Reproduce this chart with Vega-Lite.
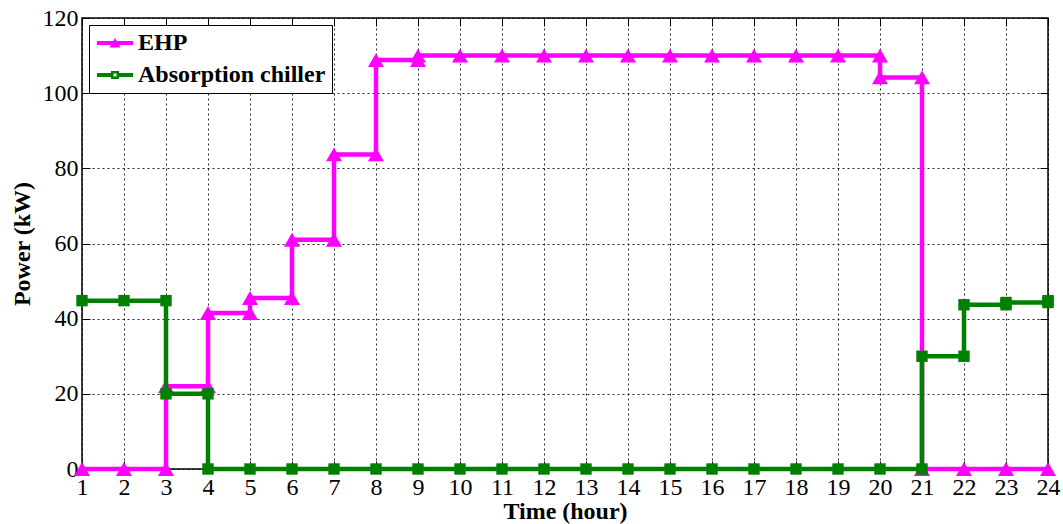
{
  "$schema": "https://vega.github.io/schema/vega-lite/v6.json",
  "width": 966,
  "height": 451,
  "autosize": {"type": "none"},
  "padding": {"left": 82, "top": 18, "right": 15, "bottom": 55},
  "background": "white",
  "config": {
    "font": "Liberation Serif",
    "view": {"stroke": "black", "strokeWidth": 1.5},
    "axis": {
      "labelFont": "Liberation Serif",
      "labelFontSize": 24,
      "labelColor": "black",
      "titleFont": "Liberation Serif",
      "titleFontSize": 24,
      "titleFontWeight": "bold",
      "titleColor": "black",
      "domain": false,
      "tickColor": "black",
      "tickWidth": 1,
      "tickSize": -8,
      "gridColor": "black",
      "gridDash": [2, 3],
      "gridWidth": 1,
      "gridOpacity": 0.85
    }
  },
  "data": {
    "values": [
      {"series": "EHP", "step": 1, "hour": 1, "kw": 0},
      {"series": "EHP", "step": 2, "hour": 2, "kw": 0},
      {"series": "EHP", "step": 3, "hour": 3, "kw": 0},
      {"series": "EHP", "step": 4, "hour": 3, "kw": 22},
      {"series": "EHP", "step": 5, "hour": 4, "kw": 22},
      {"series": "EHP", "step": 6, "hour": 4, "kw": 41.5},
      {"series": "EHP", "step": 7, "hour": 5, "kw": 41.5},
      {"series": "EHP", "step": 8, "hour": 5, "kw": 45.5},
      {"series": "EHP", "step": 9, "hour": 6, "kw": 45.5},
      {"series": "EHP", "step": 10, "hour": 6, "kw": 61},
      {"series": "EHP", "step": 11, "hour": 7, "kw": 61},
      {"series": "EHP", "step": 12, "hour": 7, "kw": 83.7},
      {"series": "EHP", "step": 13, "hour": 8, "kw": 83.7},
      {"series": "EHP", "step": 14, "hour": 8, "kw": 108.8},
      {"series": "EHP", "step": 15, "hour": 9, "kw": 108.8},
      {"series": "EHP", "step": 16, "hour": 9, "kw": 110},
      {"series": "EHP", "step": 17, "hour": 10, "kw": 110},
      {"series": "EHP", "step": 18, "hour": 11, "kw": 110},
      {"series": "EHP", "step": 19, "hour": 12, "kw": 110},
      {"series": "EHP", "step": 20, "hour": 13, "kw": 110},
      {"series": "EHP", "step": 21, "hour": 14, "kw": 110},
      {"series": "EHP", "step": 22, "hour": 15, "kw": 110},
      {"series": "EHP", "step": 23, "hour": 16, "kw": 110},
      {"series": "EHP", "step": 24, "hour": 17, "kw": 110},
      {"series": "EHP", "step": 25, "hour": 18, "kw": 110},
      {"series": "EHP", "step": 26, "hour": 19, "kw": 110},
      {"series": "EHP", "step": 27, "hour": 20, "kw": 110},
      {"series": "EHP", "step": 28, "hour": 20, "kw": 104.2},
      {"series": "EHP", "step": 29, "hour": 21, "kw": 104.2},
      {"series": "EHP", "step": 30, "hour": 21, "kw": 0},
      {"series": "EHP", "step": 31, "hour": 22, "kw": 0},
      {"series": "EHP", "step": 32, "hour": 23, "kw": 0},
      {"series": "EHP", "step": 33, "hour": 24, "kw": 0},
      {"series": "Absorption chiller", "step": 1, "hour": 1, "kw": 44.8},
      {"series": "Absorption chiller", "step": 2, "hour": 2, "kw": 44.8},
      {"series": "Absorption chiller", "step": 3, "hour": 3, "kw": 44.8},
      {"series": "Absorption chiller", "step": 4, "hour": 3, "kw": 20},
      {"series": "Absorption chiller", "step": 5, "hour": 4, "kw": 20},
      {"series": "Absorption chiller", "step": 6, "hour": 4, "kw": 0},
      {"series": "Absorption chiller", "step": 7, "hour": 5, "kw": 0},
      {"series": "Absorption chiller", "step": 8, "hour": 6, "kw": 0},
      {"series": "Absorption chiller", "step": 9, "hour": 7, "kw": 0},
      {"series": "Absorption chiller", "step": 10, "hour": 8, "kw": 0},
      {"series": "Absorption chiller", "step": 11, "hour": 9, "kw": 0},
      {"series": "Absorption chiller", "step": 12, "hour": 10, "kw": 0},
      {"series": "Absorption chiller", "step": 13, "hour": 11, "kw": 0},
      {"series": "Absorption chiller", "step": 14, "hour": 12, "kw": 0},
      {"series": "Absorption chiller", "step": 15, "hour": 13, "kw": 0},
      {"series": "Absorption chiller", "step": 16, "hour": 14, "kw": 0},
      {"series": "Absorption chiller", "step": 17, "hour": 15, "kw": 0},
      {"series": "Absorption chiller", "step": 18, "hour": 16, "kw": 0},
      {"series": "Absorption chiller", "step": 19, "hour": 17, "kw": 0},
      {"series": "Absorption chiller", "step": 20, "hour": 18, "kw": 0},
      {"series": "Absorption chiller", "step": 21, "hour": 19, "kw": 0},
      {"series": "Absorption chiller", "step": 22, "hour": 20, "kw": 0},
      {"series": "Absorption chiller", "step": 23, "hour": 21, "kw": 0},
      {"series": "Absorption chiller", "step": 24, "hour": 21, "kw": 30},
      {"series": "Absorption chiller", "step": 25, "hour": 22, "kw": 30},
      {"series": "Absorption chiller", "step": 26, "hour": 22, "kw": 43.7},
      {"series": "Absorption chiller", "step": 27, "hour": 23, "kw": 43.7},
      {"series": "Absorption chiller", "step": 28, "hour": 23, "kw": 44.3},
      {"series": "Absorption chiller", "step": 29, "hour": 24, "kw": 44.3},
      {"series": "Absorption chiller", "step": 30, "hour": 24, "kw": 44.8}
    ]
  },
  "layer": [
    {
      "encoding": {
        "x": {
          "field": "hour",
          "type": "quantitative",
          "title": "Time (hour)",
          "scale": {"domain": [1, 24], "nice": false, "zero": false},
          "axis": {
            "orient": "bottom",
            "values": [1, 2, 3, 4, 5, 6, 7, 8, 9, 10, 11, 12, 13, 14, 15, 16, 17, 18, 19, 20, 21, 22, 23, 24],
            "grid": true,
            "labelFlush": false,
            "labelOverlap": false,
            "labelPadding": 14,
            "titlePadding": 0,
            "encode": {"labels": {"update": {"fontSize": {"value": 24}, "font": {"value": "Liberation Serif"}}}}
          }
        },
        "y": {
          "field": "kw",
          "type": "quantitative",
          "title": "Power (kW)",
          "scale": {"domain": [0, 120], "nice": false},
          "axis": {
            "orient": "left",
            "values": [0, 20, 40, 60, 80, 100, 120],
            "grid": true,
            "labelFlush": false,
            "labelOverlap": false,
            "labelPadding": 12,
            "titlePadding": 8,
            "encode": {"labels": {"update": {"fontSize": {"value": 24}, "font": {"value": "Liberation Serif"}}}}
          }
        },
        "order": {"field": "step", "type": "quantitative"},
        "color": {
          "field": "series",
          "type": "nominal",
          "scale": {"domain": ["EHP", "Absorption chiller"], "range": ["#ff00ff", "#008000"]},
          "legend": {
            "title": null,
            "orient": "top-left",
            "offset": 7,
            "padding": 6,
            "strokeColor": "black",
            "fillColor": "white",
            "labelFont": "Liberation Serif",
            "labelFontSize": 24,
            "labelFontWeight": "bold",
            "labelColor": "black",
            "labelLimit": 0,
            "symbolOffset": 8,
            "labelOffset": 11,
            "rowPadding": 8,
            "symbolSize": 400,
            "encode": {
              "symbols": {
                "update": {
                  "shape": {"signal": "datum.value === 'EHP' ? 'M-1.8,-0.2H1.8V0.2H-1.8Z M-0.55,0.45L0,-0.5L0.55,0.45Z' : 'M-1.8,-0.2H-0.4V0.2H-1.8Z M0.4,-0.2H1.8V0.2H0.4Z M-0.4,-0.4H0.4V0.4H-0.4Z M-0.15,-0.15V0.15H0.15V-0.15Z'"},
                  "fill": {"signal": "datum.value === 'EHP' ? '#ff00ff' : '#008000'"},
                  "stroke": {"value": "transparent"},
                  "strokeWidth": {"value": 0},
                  "size": {"value": 400},
                  "opacity": {"value": 1}
                }
              }
            }
          }
        }
      },
      "layer": [
        {
          "transform": [{"filter": "datum.series === 'EHP'"}],
          "mark": {"type": "line", "strokeWidth": 4.5, "clip": false}
        },
        {
          "transform": [{"filter": "datum.series === 'EHP'"}],
          "mark": {"type": "point", "shape": "triangle-up", "filled": true, "size": 256, "opacity": 1, "strokeWidth": 1}
        },
        {
          "transform": [{"filter": "datum.series === 'Absorption chiller'"}],
          "mark": {"type": "line", "strokeWidth": 4.5, "clip": false}
        },
        {
          "transform": [{"filter": "datum.series === 'Absorption chiller'"}],
          "mark": {"type": "point", "shape": "square", "filled": true, "size": 130, "opacity": 1, "strokeWidth": 1}
        }
      ]
    },
    {
      "mark": {"type": "point", "opacity": 0},
      "encoding": {
        "x": {
          "field": "hour",
          "type": "quantitative",
          "scale": {"domain": [1, 24], "nice": false, "zero": false},
          "axis": {
            "orient": "top",
            "values": [1, 2, 3, 4, 5, 6, 7, 8, 9, 10, 11, 12, 13, 14, 15, 16, 17, 18, 19, 20, 21, 22, 23, 24],
            "labels": false,
            "grid": false,
            "title": null
          }
        },
        "y": {
          "field": "kw",
          "type": "quantitative",
          "scale": {"domain": [0, 120], "nice": false},
          "axis": {
            "orient": "right",
            "values": [0, 20, 40, 60, 80, 100, 120],
            "labels": false,
            "grid": false,
            "title": null
          }
        }
      }
    }
  ],
  "resolve": {"axis": {"x": "independent", "y": "independent"}}
}
